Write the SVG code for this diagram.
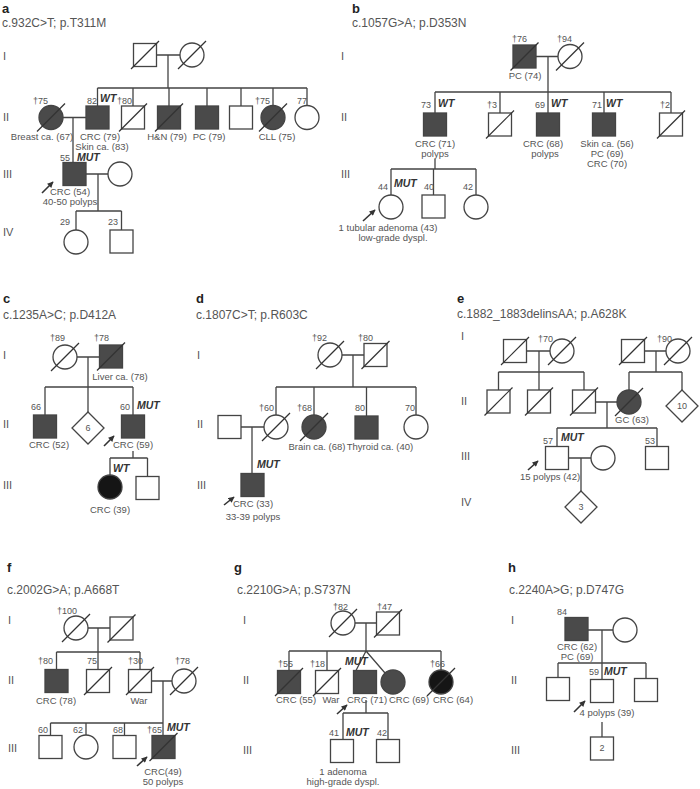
<svg xmlns="http://www.w3.org/2000/svg" width="700" height="789" viewBox="0 0 700 789">
<defs>
<style>
.ln{stroke:#444;stroke-width:1.3;fill:none}
.sh{fill:#fff;stroke:#444;stroke-width:1.3}
.af{fill:#4a4a4a;stroke:#444;stroke-width:1.3}
.bk{fill:#151515;stroke:#444;stroke-width:1.3}
.sl{stroke:#333;stroke-width:1.2}
.ar{stroke:#333;stroke-width:1.6;marker-end:url(#arr)}
text{font-family:"Liberation Sans",Arial,sans-serif;fill:#555}
.t{font-size:9.5px}
.ag{font-size:9px}
.c{text-anchor:middle}
.e{text-anchor:end}
.gt{font-size:10.5px;font-weight:bold;font-style:italic;fill:#333}
.pl{font-size:13px;font-weight:bold;fill:#222}
.mu{font-size:12px}
.gn{font-size:11px}
</style>
<marker id="arr" viewBox="0 0 10 10" refX="9" refY="5" markerWidth="7" markerHeight="6" orient="auto" markerUnits="userSpaceOnUse"><path d="M0,0 L10,5 L0,10 z" fill="#333"/></marker>
</defs>
<rect width="700" height="789" fill="#fff"/>

<!-- ===== Panel a ===== -->
<g id="panel-a-labels">
<text class="pl" x="2" y="13">a</text>
<text class="mu" x="2" y="27">c.932C&gt;T; p.T311M</text>
<text class="gn" x="3" y="60">I</text>
<text class="gn" x="3" y="121">II</text>
<text class="gn" x="3" y="178">III</text>
<text class="gn" x="3" y="236">IV</text>
</g>
<g id="a-connectors">
<path class="ln" d="M156.5 55H180M168 55V88M97.5 88H307M97.5 88V106M133 88V106M169 88V106M207 88V106M241 88V106M273 88V105.5M307 88V105.5M63 117.5H86M73 117.5V162.5M86 174H108M98 174V211M76 211H121.5M76 211V230M121.5 211V230"/>
<line class="ar" x1="42" y1="193" x2="53" y2="182"/>
</g>
<g id="a-I-1"><rect class="sh" x="133.5" y="43.5" width="23" height="23"/><line class="sl" x1="131" y1="69" x2="159" y2="41"/></g>
<g id="a-I-2"><circle class="sh" cx="192" cy="55" r="12"/><line class="sl" x1="178" y1="69" x2="206" y2="41"/></g>
<g id="a-II-1"><circle class="af" cx="51" cy="117.5" r="12"/><line class="sl" x1="37" y1="131.5" x2="65" y2="103.5"/><text class="ag" x="33" y="104">†75</text><text class="t c" x="42" y="140">Breast ca. (67)</text></g>
<g id="a-II-2"><rect class="af" x="86" y="106" width="23" height="23"/><text class="ag" x="87" y="104">82</text><text class="gt" x="100" y="102">WT</text><text class="t c" x="100" y="140">CRC (79)</text><text class="t c" x="102" y="149.5">Skin ca. (83)</text></g>
<g id="a-II-3"><rect class="sh" x="121.5" y="106" width="23" height="23"/><line class="sl" x1="119" y1="131.5" x2="147" y2="103.5"/><text class="ag" x="117" y="104">†80</text></g>
<g id="a-II-4"><rect class="af" x="157.5" y="106" width="23" height="23"/><line class="sl" x1="155" y1="131.5" x2="183" y2="103.5"/><text class="t c" x="167" y="140">H&amp;N (79)</text></g>
<g id="a-II-5"><rect class="af" x="195.5" y="106" width="23" height="23"/><text class="t c" x="209" y="140">PC (79)</text></g>
<g id="a-II-6"><rect class="sh" x="229.5" y="106" width="23" height="23"/></g>
<g id="a-II-7"><circle class="af" cx="273" cy="117.5" r="12"/><line class="sl" x1="259" y1="131.5" x2="287" y2="103.5"/><text class="ag" x="255" y="104">†75</text><text class="t c" x="277" y="140">CLL (75)</text></g>
<g id="a-II-8"><circle class="sh" cx="307" cy="117.5" r="12"/><text class="ag" x="297" y="104">77</text></g>
<g id="a-III-1"><rect class="af" x="63" y="162.5" width="23" height="23"/><text class="ag" x="60" y="160.5">55</text><text class="gt" x="77" y="161">MUT</text><text class="t c" x="70" y="195">CRC (54)</text><text class="t c" x="70" y="205">40-50 polyps</text></g>
<g id="a-III-2"><circle class="sh" cx="120" cy="174" r="12"/></g>
<g id="a-IV-1"><circle class="sh" cx="76" cy="242" r="12"/><text class="ag" x="60" y="225">29</text></g>
<g id="a-IV-2"><rect class="sh" x="110" y="230" width="23" height="23"/><text class="ag" x="108" y="225">23</text></g>

<!-- ===== Panel b ===== -->
<g id="panel-b-labels">
<text class="pl" x="352" y="13">b</text>
<text class="mu" x="352" y="27">c.1057G&gt;A; p.D353N</text>
<text class="gn" x="341" y="60">I</text>
<text class="gn" x="341" y="121">II</text>
<text class="gn" x="341" y="178">III</text>
</g>
<g id="b-connectors">
<path class="ln" d="M536 56.5H558M548 56.5V92M435 92H671M435 92V113M500 92V113M548 92V113M604 92V113M671 92V113M435 159V169M391 169H476M391 169V195M433.5 169V195M476 169V195"/>
<line class="ar" x1="363" y1="221" x2="375" y2="210"/>
</g>
<g id="b-I-1"><rect class="af" x="513" y="45" width="23" height="23"/><line class="sl" x1="510.5" y1="70.5" x2="538.5" y2="42.5"/><text class="ag" x="512" y="42">†76</text><text class="t c" x="525" y="79">PC (74)</text></g>
<g id="b-I-2"><circle class="sh" cx="570" cy="56.5" r="12"/><line class="sl" x1="556" y1="70.5" x2="584" y2="42.5"/><text class="ag" x="557" y="42">†94</text></g>
<g id="b-II-1"><rect class="af" x="423.5" y="113" width="23" height="23"/><text class="ag e" x="431" y="108">73</text><text class="gt" x="438" y="107">WT</text><text class="t c" x="435" y="147">CRC (71)</text><text class="t c" x="435" y="157">polyps</text></g>
<g id="b-II-2"><rect class="sh" x="488.5" y="113" width="23" height="23"/><line class="sl" x1="486" y1="138.5" x2="514" y2="110.5"/><text class="ag" x="487" y="108">†3</text></g>
<g id="b-II-3"><rect class="af" x="536.5" y="113" width="23" height="23"/><text class="ag" x="535" y="108">69</text><text class="gt" x="551" y="107">WT</text><text class="t c" x="543" y="147">CRC (68)</text><text class="t c" x="545" y="157">polyps</text></g>
<g id="b-II-4"><rect class="af" x="592.5" y="113" width="23" height="23"/><text class="ag" x="592" y="108">71</text><text class="gt" x="606" y="107">WT</text><text class="t c" x="607" y="147">Skin ca. (56)</text><text class="t c" x="607" y="157">PC (69)</text><text class="t c" x="607" y="167">CRC (70)</text></g>
<g id="b-II-5"><rect class="sh" x="659.5" y="113" width="23" height="23"/><line class="sl" x1="657" y1="138.5" x2="685" y2="110.5"/><text class="ag" x="660" y="108">†2</text></g>
<g id="b-III-1"><circle class="sh" cx="391" cy="207" r="12"/><text class="ag e" x="388" y="190">44</text><text class="gt" x="394" y="187">MUT</text><text class="t c" x="388" y="231">1 tubular adenoma (43)</text><text class="t c" x="393" y="241">low-grade dyspl.</text></g>
<g id="b-III-2"><rect class="sh" x="422" y="195" width="23" height="23"/><text class="ag" x="424" y="190">40</text></g>
<g id="b-III-3"><circle class="sh" cx="476" cy="207" r="12"/><text class="ag" x="463" y="190">42</text></g>

<!-- ===== Panel c ===== -->
<g id="panel-c-labels">
<text class="pl" x="3" y="303">c</text>
<text class="mu" x="3" y="319">c.1235A&gt;C; p.D412A</text>
<text class="gn" x="3" y="359">I</text>
<text class="gn" x="3" y="428">II</text>
<text class="gn" x="3" y="489">III</text>
</g>
<g id="c-connectors">
<path class="ln" d="M77 357H99.5M88 357V387M45 387H133M45 387V415M88 387V412M133 387V415M133 451V458M110 458H147.5M110 458V475M147.5 458V476.5"/>
<line class="ar" x1="104" y1="446" x2="114" y2="436"/>
</g>
<g id="c-I-1"><circle class="sh" cx="65" cy="357" r="12"/><line class="sl" x1="51" y1="371" x2="79" y2="343"/><text class="ag" x="50" y="341">†89</text></g>
<g id="c-I-2"><rect class="af" x="99.5" y="345" width="23" height="23"/><line class="sl" x1="97" y1="370.5" x2="125" y2="342.5"/><text class="ag" x="94" y="341">†78</text><text class="t c" x="120" y="380">Liver ca. (78)</text></g>
<g id="c-II-1"><rect class="af" x="33.5" y="415" width="23" height="23"/><text class="ag" x="31" y="410">66</text><text class="t c" x="49" y="448">CRC (52)</text></g>
<g id="c-II-2"><polygon class="sh" points="88,412 104,428 88,444 72,428"/><text class="ag c" x="88" y="431">6</text></g>
<g id="c-II-3"><rect class="af" x="121.5" y="415" width="23" height="23"/><text class="ag" x="120" y="410">60</text><text class="gt" x="137" y="409">MUT</text><text class="t c" x="133" y="448">CRC (59)</text></g>
<g id="c-III-1"><circle class="bk" cx="110" cy="487" r="12"/><text class="gt" x="113" y="472">WT</text><text class="t c" x="110" y="513">CRC (39)</text></g>
<g id="c-III-2"><rect class="sh" x="136" y="476.5" width="23" height="23"/></g>

<!-- ===== Panel d ===== -->
<g id="panel-d-labels">
<text class="pl" x="196" y="303">d</text>
<text class="mu" x="196" y="319">c.1807C&gt;T; p.R603C</text>
<text class="gn" x="197" y="359">I</text>
<text class="gn" x="197" y="428">II</text>
<text class="gn" x="197" y="489">III</text>
</g>
<g id="d-connectors">
<path class="ln" d="M342 355H364M353 355V387M276 387H416M276 387V415M314 387V415M366.5 387V416M416 387V415M241 427H264M252 427V473.5"/>
<line class="ar" x1="224" y1="505" x2="234" y2="497"/>
</g>
<g id="d-I-1"><circle class="sh" cx="330" cy="355" r="12"/><line class="sl" x1="316" y1="369" x2="344" y2="341"/><text class="ag" x="312" y="341">†92</text></g>
<g id="d-I-2"><rect class="sh" x="364" y="343.5" width="23" height="23"/><line class="sl" x1="361.5" y1="369" x2="389.5" y2="341"/><text class="ag" x="358" y="341">†80</text></g>
<g id="d-II-1"><rect class="sh" x="218" y="415.5" width="23" height="23"/></g>
<g id="d-II-2"><circle class="sh" cx="276" cy="427" r="12"/><line class="sl" x1="262" y1="441" x2="290" y2="413"/><text class="ag" x="259" y="411">†60</text></g>
<g id="d-II-3"><circle class="af" cx="314" cy="427" r="12"/><line class="sl" x1="300" y1="441" x2="328" y2="413"/><text class="ag" x="297" y="411">†68</text><text class="t c" x="317" y="450">Brain ca. (68)</text></g>
<g id="d-II-4"><rect class="af" x="355" y="416" width="23" height="23"/><text class="ag" x="355" y="411">80</text><text class="t c" x="380" y="450">Thyroid ca. (40)</text></g>
<g id="d-II-5"><circle class="sh" cx="416" cy="427" r="12"/><text class="ag" x="405" y="411">70</text></g>
<g id="d-III-1"><rect class="af" x="241" y="473.5" width="23" height="23"/><text class="gt" x="257" y="468">MUT</text><text class="t c" x="253" y="507">CRC (33)</text><text class="t c" x="253" y="520">33-39 polyps</text></g>

<!-- ===== Panel e ===== -->
<g id="panel-e-labels">
<text class="pl" x="457" y="303">e</text>
<text class="mu" x="457" y="318">c.1882_1883delinsAA; p.A628K</text>
<text class="gn" x="461" y="340">I</text>
<text class="gn" x="461" y="405">II</text>
<text class="gn" x="461" y="460">III</text>
<text class="gn" x="461" y="506">IV</text>
</g>
<g id="e-connectors">
<path class="ln" d="M526.5 351H550M539 351V372M498.5 372H584M498.5 372V390M539 372V390M584 372V390M644.5 351H666M656 351V372M629 372H682M629 372V390M682 372V390M595.5 402H617M607 402V428M557 428H657M557 428V446.5M657 428V446.5M568.5 458H591M581 458V491"/>
<line class="ar" x1="528" y1="470" x2="538" y2="461"/>
</g>
<g id="e-I-1"><rect class="sh" x="503.5" y="339.5" width="23" height="23"/><line class="sl" x1="501" y1="365" x2="529" y2="337"/></g>
<g id="e-I-2"><circle class="sh" cx="562" cy="351" r="12"/><line class="sl" x1="548" y1="365" x2="576" y2="337"/><text class="ag" x="538" y="342">†70</text></g>
<g id="e-I-3"><rect class="sh" x="621.5" y="339.5" width="23" height="23"/><line class="sl" x1="619" y1="365" x2="647" y2="337"/></g>
<g id="e-I-4"><circle class="sh" cx="678" cy="351" r="12"/><line class="sl" x1="664" y1="365" x2="692" y2="337"/><text class="ag" x="657" y="342">†90</text></g>
<g id="e-II-1"><rect class="sh" x="487" y="390" width="23" height="23"/><line class="sl" x1="484.5" y1="415.5" x2="512.5" y2="387.5"/></g>
<g id="e-II-2"><rect class="sh" x="527.5" y="390" width="23" height="23"/><line class="sl" x1="525" y1="415.5" x2="553" y2="387.5"/></g>
<g id="e-II-3"><rect class="sh" x="572.5" y="390" width="23" height="23"/><line class="sl" x1="570" y1="415.5" x2="598" y2="387.5"/></g>
<g id="e-II-4"><circle class="af" cx="629" cy="402" r="12"/><line class="sl" x1="615" y1="416" x2="643" y2="388"/><text class="t c" x="632" y="423">GC (63)</text></g>
<g id="e-II-5"><polygon class="sh" points="682,390 698,406 682,422 666,406"/><text class="ag c" x="682" y="409">10</text></g>
<g id="e-III-1"><rect class="sh" x="545.5" y="446.5" width="23" height="23"/><text class="ag" x="543" y="444">57</text><text class="gt" x="561" y="441">MUT</text><text class="t c" x="550" y="480">15 polyps (42)</text></g>
<g id="e-III-2"><circle class="sh" cx="603" cy="458" r="12"/></g>
<g id="e-III-3"><rect class="sh" x="645.5" y="446.5" width="23" height="23"/><text class="ag" x="645" y="444">53</text></g>
<g id="e-IV-1"><polygon class="sh" points="581,491 597,507 581,523 565,507"/><text class="ag c" x="581" y="510">3</text></g>

<!-- ===== Panel f ===== -->
<g id="panel-f-labels">
<text class="pl" x="7" y="572">f</text>
<text class="mu" x="7" y="594">c.2002G&gt;A; p.A668T</text>
<text class="gn" x="8" y="624">I</text>
<text class="gn" x="8" y="684">II</text>
<text class="gn" x="8" y="752">III</text>
</g>
<g id="f-connectors">
<path class="ln" d="M88 628H110M98 628V652M56.5 652H140M56.5 652V669.5M98 652V669.5M140 652V669.5M151.5 681H172M163 681V723M50.5 723H163M50.5 723V735.5M86 723V735M124.5 723V735.5M163 723V735.5"/>
<line class="ar" x1="137" y1="766" x2="147" y2="757"/>
</g>
<g id="f-I-1"><circle class="sh" cx="76" cy="628" r="12"/><line class="sl" x1="62" y1="642" x2="90" y2="614"/><text class="ag" x="57" y="614">†100</text></g>
<g id="f-I-2"><rect class="sh" x="110" y="617" width="23" height="23"/><line class="sl" x1="107.5" y1="642.5" x2="135.5" y2="614.5"/></g>
<g id="f-II-1"><rect class="af" x="45" y="669.5" width="23" height="23"/><text class="ag" x="38" y="664">†80</text><text class="t c" x="56" y="704">CRC (78)</text></g>
<g id="f-II-2"><rect class="sh" x="86.5" y="669.5" width="23" height="23"/><line class="sl" x1="84" y1="695" x2="112" y2="667"/><text class="ag" x="87" y="664">75</text></g>
<g id="f-II-3"><rect class="sh" x="128.5" y="669.5" width="23" height="23"/><line class="sl" x1="126" y1="695" x2="154" y2="667"/><text class="ag" x="128" y="664">†30</text><text class="t c" x="139" y="704">War</text></g>
<g id="f-II-4"><circle class="sh" cx="184" cy="681" r="12"/><line class="sl" x1="170" y1="695" x2="198" y2="667"/><text class="ag" x="175" y="664">†78</text></g>
<g id="f-III-1"><rect class="sh" x="39" y="735.5" width="23" height="23"/><text class="ag" x="38" y="733">60</text></g>
<g id="f-III-2"><circle class="sh" cx="86" cy="747" r="12"/><text class="ag" x="73" y="733">62</text></g>
<g id="f-III-3"><rect class="sh" x="113" y="735.5" width="23" height="23"/><text class="ag" x="113" y="733">68</text></g>
<g id="f-III-4"><rect class="af" x="152" y="735.5" width="23" height="23"/><line class="sl" x1="149.5" y1="761" x2="177.5" y2="733"/><text class="ag" x="147" y="733">†65</text><text class="gt" x="167" y="731">MUT</text><text class="t c" x="163" y="775">CRC(49)</text><text class="t c" x="163" y="785">50 polyps</text></g>

<!-- ===== Panel g ===== -->
<g id="panel-g-labels">
<text class="pl" x="234" y="572">g</text>
<text class="mu" x="237" y="594">c.2210G&gt;A; p.S737N</text>
<text class="gn" x="243" y="624">I</text>
<text class="gn" x="243" y="684">II</text>
<text class="gn" x="243" y="754">III</text>
</g>
<g id="g-connectors">
<path class="ln" d="M355 623H376.5M366 623V651M289 651H441M289 651V670.5M327 651V670.5M441 651V670M366 651L356 670.5M366 651L385 673M366 700V713M343 713H388M343 713V739.5M388 713V739.5"/>
<line class="ar" x1="337" y1="714" x2="347" y2="705"/>
</g>
<g id="g-I-1"><circle class="sh" cx="343" cy="623" r="12"/><line class="sl" x1="329" y1="637" x2="357" y2="609"/><text class="ag" x="333" y="610">†82</text></g>
<g id="g-I-2"><rect class="sh" x="376.5" y="612" width="23" height="23"/><line class="sl" x1="374" y1="637.5" x2="402" y2="609.5"/><text class="ag" x="377" y="610">†47</text></g>
<g id="g-II-1"><rect class="af" x="277.5" y="670.5" width="23" height="23"/><line class="sl" x1="275" y1="696" x2="303" y2="668"/><text class="ag" x="278" y="667">†55</text><text class="t c" x="296" y="703">CRC (55)</text></g>
<g id="g-II-2"><rect class="sh" x="315.5" y="670.5" width="23" height="23"/><line class="sl" x1="313" y1="696" x2="341" y2="668"/><text class="ag" x="310" y="667">†18</text><text class="t c" x="331" y="703">War</text></g>
<g id="g-II-3"><rect class="af" x="353.5" y="670.5" width="23" height="23"/><text class="gt" x="345" y="665">MUT</text><text class="t c" x="367" y="703">CRC (71)</text></g>
<g id="g-II-4"><circle class="af" cx="393" cy="682" r="12"/><text class="t c" x="409" y="703">CRC (69)</text></g>
<g id="g-II-5"><circle class="bk" cx="441" cy="682" r="12"/><line class="sl" x1="427" y1="696" x2="455" y2="668"/><text class="ag" x="430" y="667">†66</text><text class="t c" x="453" y="703">CRC (64)</text></g>
<g id="g-III-1"><rect class="sh" x="330.5" y="739.5" width="23" height="23"/><text class="ag" x="329" y="736">41</text><text class="gt" x="346" y="736">MUT</text><text class="t c" x="343" y="775">1 adenoma</text><text class="t c" x="343" y="785">high-grade dyspl.</text></g>
<g id="g-III-2"><rect class="sh" x="376.5" y="739.5" width="23" height="23"/><text class="ag" x="377" y="736">42</text></g>

<!-- ===== Panel h ===== -->
<g id="panel-h-labels">
<text class="pl" x="508" y="572">h</text>
<text class="mu" x="509" y="594">c.2240A&gt;G; p.D747G</text>
<text class="gn" x="511" y="624">I</text>
<text class="gn" x="511" y="684">II</text>
<text class="gn" x="511" y="754">III</text>
</g>
<g id="h-connectors">
<path class="ln" d="M588 630H613M602 630V663M558 663H646M558 663V677.5M602 663V679.5M646 663V678.5M602 722V737"/>
<line class="ar" x1="574" y1="712" x2="585" y2="701"/>
</g>
<g id="h-I-1"><rect class="af" x="565" y="617.5" width="23" height="23"/><text class="ag" x="557" y="615">84</text><text class="t c" x="577" y="650">CRC (62)</text><text class="t c" x="577" y="660">PC (69)</text></g>
<g id="h-I-2"><circle class="sh" cx="625" cy="630" r="12"/></g>
<g id="h-II-1"><rect class="sh" x="546.5" y="677.5" width="23" height="23"/></g>
<g id="h-II-2"><rect class="sh" x="590.5" y="679.5" width="23" height="23"/><text class="ag" x="589" y="675">59</text><text class="gt" x="604" y="675">MUT</text><text class="t c" x="607" y="716">4 polyps (39)</text></g>
<g id="h-II-3"><rect class="sh" x="634.5" y="678.5" width="23" height="23"/></g>
<g id="h-III-1"><rect class="sh" x="590.5" y="737" width="23" height="23"/><text class="ag c" x="602" y="751">2</text></g>
</svg>
